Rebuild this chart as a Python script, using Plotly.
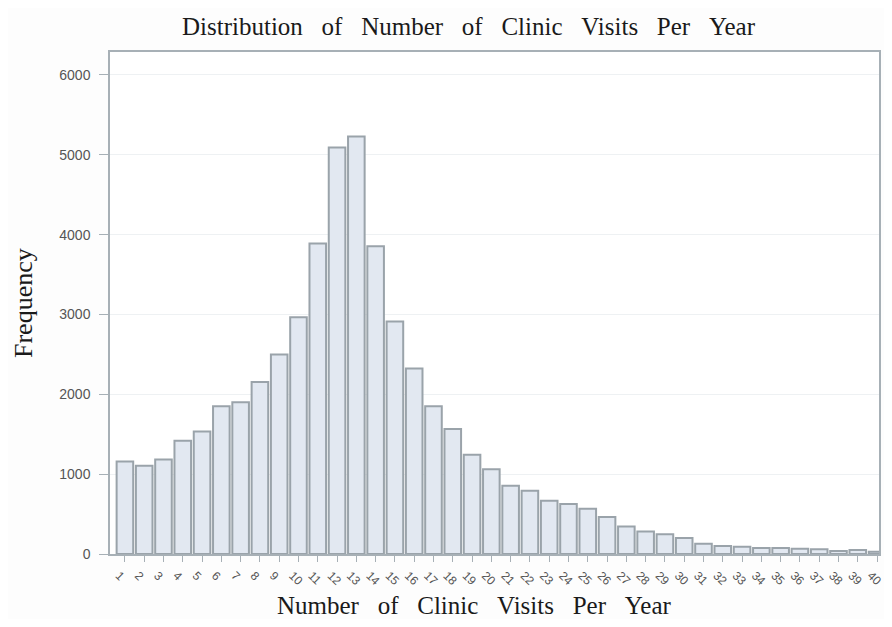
import plotly.graph_objects as go

visits = list(range(1, 41))
frequency = [1160, 1105, 1183, 1417, 1533, 1850, 1900, 2155, 2500, 2967,
             3888, 5092, 5229, 3854, 2913, 2325, 1850, 1567, 1242, 1062,
             854, 792, 667, 625, 567, 463, 346, 283, 246, 200,
             129, 100, 92, 75, 75, 67, 58, 37, 50, 29]
tick_labels = [str(v) for v in visits]
y_ticks = [0, 1000, 2000, 3000, 4000, 5000, 6000]

title_text = "Distribution of Number of Clinic Visits Per Year"
x_title = "Number of Clinic Visits Per Year"
y_title = "Frequency"

def wide(s):
    return s.replace(" ", "\u00a0\u00a0\u00a0")

fig = go.Figure()
fig.add_trace(go.Bar(
    x=visits, y=frequency, width=0.86,
    marker=dict(color="#e2e8f1", line=dict(color="#9aa3aa", width=2)),
))

serif = "Liberation Serif"
plot_w = 774
fig.update_layout(
    width=884, height=611,
    margin=dict(l=102, r=8, t=44, b=65),
    paper_bgcolor="#fdfdfd", plot_bgcolor="#ffffff",
    showlegend=False,
    annotations=[
        dict(text=wide(title_text), xref="paper", yref="paper", x=361 / plot_w, y=1.0, yshift=26,
             xanchor="center", yanchor="middle", showarrow=False,
             font=dict(family=serif, size=25, color="#1a1a1a")),
        dict(text=wide(x_title), xref="paper", yref="paper", x=367 / plot_w, y=0, yshift=-51,
             xanchor="center", yanchor="middle", showarrow=False,
             font=dict(family=serif, size=25, color="#1a1a1a")),
        dict(text=y_title, xref="paper", yref="paper", x=0, xshift=-87, y=0.5, yshift=0,
             xanchor="center", yanchor="middle", showarrow=False, textangle=-90,
             font=dict(family=serif, size=26, color="#1a1a1a")),
    ],
    xaxis=dict(
        range=[0.227, 40.1], tickmode="array", tickvals=visits, ticktext=tick_labels,
        tickangle=45, ticks="outside", ticklen=6, tickcolor="#a7b0b6",
        ticklabelshift=-6, ticklabelstandoff=2,
        tickfont=dict(family="Liberation Sans", size=12, color="#555555"),
        showline=True, linecolor="#a7b0b6", linewidth=1.5, showgrid=False,
        zeroline=False, mirror=True,
    ),
    yaxis=dict(
        range=[0, 6288], tickvals=y_ticks, ticks="outside", ticklen=9,
        ticklabelstandoff=6,
        tickcolor="#a7b0b6", tickfont=dict(family="Liberation Sans", size=14, color="#555555"),
        showline=True, linecolor="#a7b0b6", linewidth=1.5, mirror=True,
        showgrid=True, gridcolor="#eef1f3", gridwidth=1, zeroline=False,
    ),
)
fig.write_html("out.html")
